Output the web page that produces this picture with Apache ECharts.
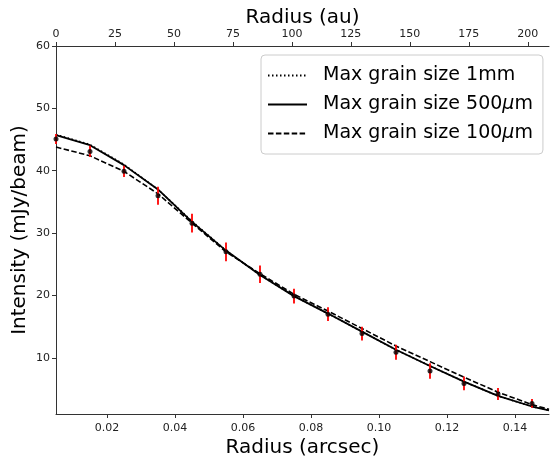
<!DOCTYPE html>
<html>
<head>
<meta charset="utf-8">
<script src="https://cdn.jsdelivr.net/npm/echarts@6/dist/echarts.min.js"></script>
<style>html,body{margin:0;padding:0;background:#fff}#c{width:550px;height:456px}</style>
</head>
<body>
<div id="c"></div>
<script>
// Radii (arcsec) of the model curves
const modelRadius = [0.005, 0.015, 0.025, 0.035, 0.045, 0.055, 0.065, 0.075, 0.085, 0.095, 0.105, 0.115, 0.125, 0.135, 0.145, 0.150];
const model1mm   = [45.8, 44.2, 41.0, 37.0, 31.9, 27.2, 23.3, 19.9, 17.1, 14.2, 11.3, 8.7, 6.2, 3.9, 2.2, 1.6];
const model500um = [45.7, 44.1, 40.9, 37.0, 31.8, 27.2, 23.3, 19.9, 17.1, 14.2, 11.3, 8.7, 6.2, 3.9, 2.2, 1.6];
const model100um = [43.8, 42.4, 39.9, 36.3, 31.6, 27.0, 23.5, 20.2, 17.5, 14.7, 11.9, 9.4, 6.9, 4.5, 2.5, 1.75];
// Observed profile
const obsRadius = [0.005, 0.015, 0.025, 0.035, 0.045, 0.055, 0.065, 0.075, 0.085, 0.095, 0.105, 0.115, 0.125, 0.135, 0.145];
const obsValue  = [45.1, 43.1, 39.9, 36.0, 31.6, 27.0, 23.4, 19.9, 17.0, 13.9, 10.9, 7.9, 5.9, 4.2, 2.7];
const obsError  = [0.8, 0.9, 0.9, 1.45, 1.5, 1.5, 1.4, 1.2, 1.1, 1.1, 1.2, 1.25, 1.1, 0.95, 0.7];
// Tick labels
const arcsecTicks = [0.02, 0.04, 0.06, 0.08, 0.10, 0.12, 0.14];
const intensityTicks = [10, 20, 30, 40, 50, 60];
const legendNames = ['Max grain size 1mm', 'Max grain size 500μm', 'Max grain size 100μm'];

const FONT = 'DejaVu Sans';
const zip = (a, b) => a.map((v, i) => [v, b[i]]);

const chart = echarts.init(document.getElementById('c'), null, {renderer: 'canvas'});
const axisLine = {show: true, lineStyle: {color: '#333', width: 1}};
const tickStyle = {show: true, inside: false, length: 4, lineStyle: {color: '#333', width: 1}};
const labelStyle = {color: '#222', fontFamily: FONT, fontSize: 11};

chart.setOption({
  animation: false,
  backgroundColor: '#fff',
  grid: {left: 56, right: 1, top: 46, bottom: 42, containLabel: false, outerBoundsMode: 'none'},
  legend: {
    orient: 'vertical',
    left: 261, top: 55,
    padding: [11, 10, 11, 6],
    itemGap: 10,
    itemWidth: 39, itemHeight: 20,
    backgroundColor: '#fff',
    borderColor: '#ccc', borderWidth: 1, borderRadius: 4,
    itemStyle: {opacity: 0},
    data: legendNames,
    formatter: function (n) {
      if (n.indexOf('μm') >= 0) {
        const base = n.replace('μm', '');
        return '{a|' + base + '}{i|μ}{a|m}';
      }
      return '{a|' + n + '}';
    },
    textStyle: {
      padding: [0, 0, 0, 11],
      rich: {
        a: {fontFamily: FONT, fontSize: 19, color: '#000'},
        i: {fontFamily: FONT, fontSize: 19, fontStyle: 'italic', color: '#000'}
      }
    }
  },
  xAxis: [
    {
      type: 'value', position: 'bottom', min: 0.005, max: 0.15,
      name: 'Radius (arcsec)', nameLocation: 'middle', nameGap: 24, nameMoveOverlap: false,
      nameTextStyle: {fontFamily: FONT, fontSize: 20, color: '#000'},
      axisLine: axisLine,
      axisTick: Object.assign({customValues: arcsecTicks}, tickStyle),
      axisLabel: Object.assign({customValues: arcsecTicks, margin: 9, formatter: v => v.toFixed(2)}, labelStyle),
      splitLine: {show: false}
    },
    {
      type: 'value', position: 'top', min: 0, max: 209, interval: 25,
      name: 'Radius (au)', nameLocation: 'middle', nameGap: 18, nameMoveOverlap: false,
      nameTextStyle: {fontFamily: FONT, fontSize: 20, color: '#000'},
      axisLine: axisLine,
      axisTick: tickStyle,
      axisLabel: Object.assign({margin: 6, showMaxLabel: false}, labelStyle),
      splitLine: {show: false}
    }
  ],
  yAxis: {
    type: 'value', min: 1, max: 60,
    name: 'Intensity (mJy/beam)', nameLocation: 'middle', nameGap: 26, nameMoveOverlap: false,
    nameTextStyle: {fontFamily: FONT, fontSize: 20, color: '#000'},
    axisLine: axisLine,
    axisTick: Object.assign({customValues: intensityTicks}, tickStyle),
    axisLabel: Object.assign({customValues: intensityTicks, margin: 6}, labelStyle),
    splitLine: {show: false}
  },
  series: [
    {
      name: legendNames[0], type: 'line', xAxisIndex: 0, symbol: 'none',
      data: zip(modelRadius, model1mm),
      lineStyle: {color: '#000', width: 1.6, type: [1.5, 2.5]}, itemStyle: {color: '#000'}, z: 2
    },
    {
      name: legendNames[1], type: 'line', xAxisIndex: 0, symbol: 'none',
      data: zip(modelRadius, model500um),
      lineStyle: {color: '#000', width: 1.8, type: 'solid'}, itemStyle: {color: '#000'}, z: 2
    },
    {
      name: legendNames[2], type: 'line', xAxisIndex: 0, symbol: 'none',
      data: zip(modelRadius, model100um),
      lineStyle: {color: '#000', width: 1.6, type: [5.5, 2.4]}, itemStyle: {color: '#000'}, z: 2
    },
    {
      name: 'err', type: 'custom', xAxisIndex: 0, z: 3,
      data: obsRadius.map((r, i) => [r, obsValue[i] - obsError[i], obsValue[i] + obsError[i]]),
      renderItem: function (params, api) {
        const p1 = api.coord([api.value(0), api.value(1)]);
        const p2 = api.coord([api.value(0), api.value(2)]);
        return {type: 'line', shape: {x1: p1[0], y1: p1[1], x2: p2[0], y2: p2[1]},
          style: {stroke: '#ff0000', lineWidth: 1.8}};
      }
    },
    {
      name: 'obs', type: 'scatter', xAxisIndex: 0, z: 4,
      data: zip(obsRadius, obsValue), symbol: 'circle', symbolSize: 5,
      itemStyle: {color: '#000'}
    }
  ]
});
</script>
</body>
</html>
